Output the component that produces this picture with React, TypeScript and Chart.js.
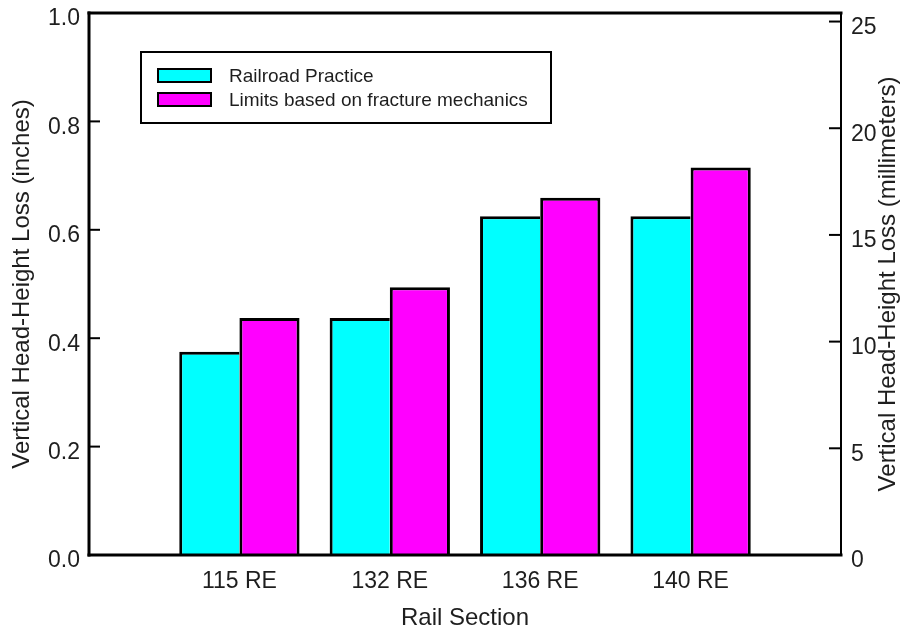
import React, { useEffect, useRef } from 'react';
import { Chart, registerables } from 'chart.js';

Chart.register(...registerables);

const categories = ['115 RE', '132 RE', '136 RE', '140 RE'];
const railroadPractice = [0.375, 0.4375, 0.625, 0.625];
const fractureLimits = [0.4375, 0.494, 0.659, 0.715];
const inchTicks = [0, 0.2, 0.4, 0.6, 0.8, 1.0];
const mmTicks = [0, 5, 10, 15, 20, 25];
const seriesNames = ['Railroad Practice', 'Limits based on fracture mechanics'];
const seriesColors = ['#00FFFF', '#FF00FF'];
const leftTitle = 'Vertical Head-Height Loss (inches)';
const rightTitle = 'Vertical Head-Height Loss (millimeters)';
const xTitle = 'Rail Section';
const MM_PER_INCH = 25.4;

const FONT = 'Arial, "Liberation Sans", Helvetica, sans-serif';
const TEXT = '#1e1e1e';

const decorPlugin = {
  id: 'decor',
  afterDatasetsDraw(chart: any) {
    const { ctx, chartArea: a, scales } = chart;
    ctx.save();
    ctx.strokeStyle = '#000';
    const line = (x1: number, y1: number, x2: number, y2: number) => {
      ctx.beginPath();
      ctx.moveTo(x1, y1);
      ctx.lineTo(x2, y2);
      ctx.stroke();
    };
    ctx.lineWidth = 2;
    scales.y.ticks.forEach((t: any) => {
      const py = scales.y.getPixelForValue(t.value);
      line(a.left, py, a.left + 11, py);
    });
    scales.y2.ticks.forEach((t: any) => {
      const py = scales.y2.getPixelForValue(t.value);
      line(a.right - 12, py, a.right, py);
    });
    ctx.lineWidth = 2;
    line(a.right, a.top, a.right, a.bottom);
    ctx.lineWidth = 3;
    line(a.left, a.top - 1.5, a.left, a.bottom + 1.5);
    line(a.left - 1.5, a.top, a.right + 1.5, a.top);
    line(a.left - 1.5, a.bottom, a.right + 1.5, a.bottom);
    ctx.restore();
  },
  afterDraw(chart: any) {
    const { ctx, chartArea: a } = chart;
    ctx.save();
    // legend
    const lx = a.left + 52;
    const ly = a.top + 39;
    ctx.strokeStyle = '#000';
    ctx.lineWidth = 2;
    ctx.strokeRect(lx, ly, 410, 71);
    ctx.font = `19px ${FONT}`;
    ctx.textBaseline = 'middle';
    ctx.textAlign = 'left';
    seriesNames.forEach((name, i) => {
      const sy = ly + 17 + i * 24;
      ctx.fillStyle = seriesColors[i];
      ctx.fillRect(lx + 17, sy, 53, 13);
      ctx.strokeRect(lx + 17, sy, 53, 13);
      ctx.fillStyle = TEXT;
      ctx.fillText(name, lx + 88, sy + 7.5);
    });
    // titles
    ctx.font = `24px ${FONT}`;
    ctx.fillStyle = TEXT;
    ctx.textAlign = 'center';
    ctx.textBaseline = 'middle';
    const midY = (a.top + a.bottom) / 2;
    ctx.save();
    ctx.translate(22, midY);
    ctx.rotate(-Math.PI / 2);
    ctx.fillText(leftTitle, 0, 0);
    ctx.restore();
    ctx.save();
    ctx.translate(chart.width - 20, midY);
    ctx.rotate(-Math.PI / 2);
    ctx.fillText(rightTitle, 0, 0);
    ctx.restore();
    ctx.fillText(xTitle, (a.left + a.right) / 2, 618);
    ctx.restore();
  },
};

export default function App() {
  const ref = useRef<HTMLCanvasElement | null>(null);
  useEffect(() => {
    if (!ref.current) return;
    const labels = ['', ...categories, ''];
    const pad = (arr: number[]) => [null, ...arr, null];
    const tickFont = { family: FONT, size: 23, lineHeight: 1.0 };
    const noGrid = { display: false, drawTicks: false };
    const chart = new Chart(ref.current, {
      type: 'bar',
      data: {
        labels,
        datasets: [
          {
            label: seriesNames[0],
            data: pad(railroadPractice) as any,
            backgroundColor: seriesColors[0],
            borderColor: '#000',
            borderWidth: { top: 3, left: 3, right: 0, bottom: 0 },
            borderSkipped: false,
            categoryPercentage: 0.8,
            barPercentage: 1.0,
            yAxisID: 'y',
          },
          {
            label: seriesNames[1],
            data: pad(fractureLimits) as any,
            backgroundColor: seriesColors[1],
            borderColor: '#000',
            borderWidth: { top: 3, left: 3, right: 3, bottom: 0 },
            borderSkipped: false,
            categoryPercentage: 0.8,
            barPercentage: 1.0,
            yAxisID: 'y',
          },
        ],
      },
      options: {
        animation: false,
        responsive: true,
        maintainAspectRatio: false,
        layout: { padding: { top: 13, left: 0, right: 0, bottom: 0 } },
        plugins: { legend: { display: false }, tooltip: { enabled: false }, title: { display: false } },
        scales: {
          x: {
            type: 'category',
            offset: false,
            grid: noGrid,
            border: { display: false },
            ticks: { font: tickFont, color: TEXT, padding: 15, autoSkip: false, maxRotation: 0 },
            afterFit: (s: any) => { s.height = 76; s.paddingLeft = 0; s.paddingRight = 0; },
          },
          y: {
            type: 'linear',
            position: 'left',
            min: 0,
            max: 1,
            grid: noGrid,
            border: { display: false },
            afterBuildTicks: (s: any) => { s.ticks = inchTicks.map((v) => ({ value: v })); },
            ticks: { font: tickFont, color: TEXT, padding: 9, labelOffset: 6, callback: (v: any) => Number(v).toFixed(1) },
            afterFit: (s: any) => { s.width = 89; s.paddingTop = 0; s.paddingBottom = 0; },
          },
          y2: {
            type: 'linear',
            position: 'right',
            min: 0,
            max: MM_PER_INCH,
            grid: noGrid,
            border: { display: false },
            afterBuildTicks: (s: any) => { s.ticks = mmTicks.map((v) => ({ value: v })); },
            ticks: { font: tickFont, color: TEXT, padding: 10, labelOffset: 6, callback: (v: any) => String(v) },
            afterFit: (s: any) => { s.width = 67; s.paddingTop = 0; s.paddingBottom = 0; },
          },
        },
      } as any,
      plugins: [decorPlugin],
    });
    return () => chart.destroy();
  }, []);
  return (
    <div style={{ position: 'fixed', left: 0, top: 0, width: 908, height: 631, background: '#fff' }}>
      <canvas ref={ref} />
    </div>
  );
}
